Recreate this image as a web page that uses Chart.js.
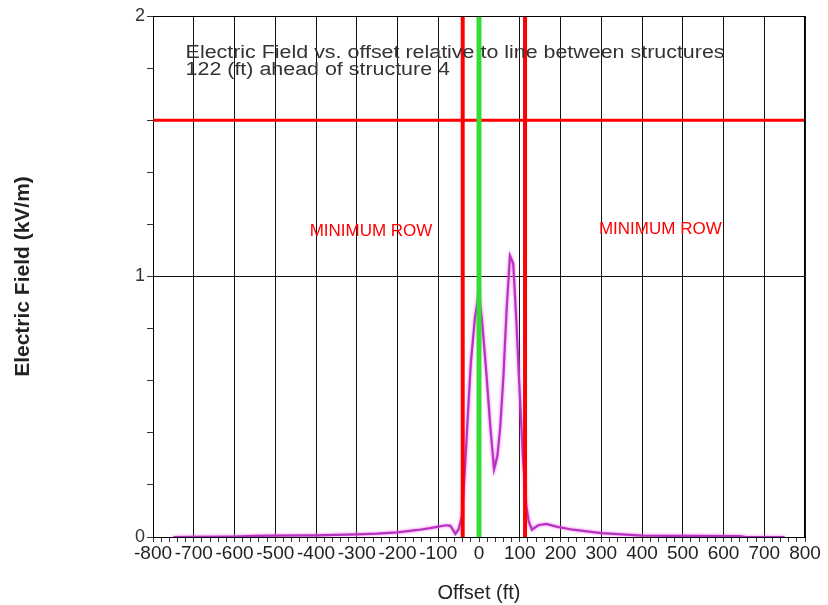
<!DOCTYPE html>
<html>
<head>
<meta charset="utf-8">
<script src="https://cdn.jsdelivr.net/npm/chart.js@4/dist/chart.umd.min.js"></script>
<style>
  html, body { margin: 0; padding: 0; background: #fff; }
  #wrap { width: 828px; height: 605px; }
</style>
</head>
<body>
<div id="wrap"><canvas id="grafico"></canvas></div>
<script>
// offset (ft) and electric field (kV/m)
var offsets = [-750, -700, -600, -550, -500, -400, -300, -250, -200, -150, -120, -100, -80, -70, -58, -50, -42, -35, -28, -20, -10, 0,
	8, 18, 28, 37, 45, 52, 60, 68, 76, 84, 92, 100, 108, 116, 122, 130, 145, 165, 190, 230, 300, 400, 500, 640, 655, 750];
var campo = [0.0, 0.001, 0.002, 0.004, 0.005, 0.006, 0.01, 0.013, 0.018, 0.027, 0.034, 0.04, 0.045, 0.043, 0.012, 0.03, 0.08, 0.25, 0.45, 0.67, 0.84, 0.94,
	0.82, 0.63, 0.42, 0.26, 0.31, 0.42, 0.62, 0.88, 1.08, 1.05, 0.82, 0.55, 0.3, 0.12, 0.06, 0.028, 0.045, 0.05, 0.04, 0.028, 0.015, 0.005, 0.004, 0.003, 0.0, 0.0];

var limiteCampo = 1.6;          // horizontal red limit line
var linhasROW = [-40, 113];      // minimum row edges
var linhaCentro = 0;             // centre line

var tituloTexto = ["Electric Field vs. offset relative to line between structures", "122 (ft) ahead of structure 4"];
var rotulosROW = [
	{ texto: "MINIMUM ROW", x: -265, y: 1.175 },
	{ texto: "MINIMUM ROW", x: 445, y: 1.183 }
];

var fonte = 'Arial, "Liberation Sans", sans-serif';

function linhaVertical(x) {
	return [{ x: x, y: 0 }, { x: x, y: 2 }];
}

var dados = [];
for (var i = 0; i < offsets.length; i++) {
	dados.push({ x: offsets[i], y: campo[i] });
}

var textosPlugin = {
	id: "textos",
	beforeDatasetDraw: function (chart, args) {
		if (args.index === 4) {
			chart.ctx.save();
			chart.ctx.shadowColor = "rgba(235,90,235,0.9)";
			chart.ctx.shadowBlur = 3;
		}
	},
	afterDatasetDraw: function (chart, args) {
		if (args.index === 4) chart.ctx.restore();
	},
	afterDraw: function (chart) {
		var ctx = chart.ctx;
		var sx = chart.scales.x, sy = chart.scales.y;
		var area = chart.chartArea;
		ctx.save();
		// top and right frame
		ctx.strokeStyle = "#000";
		ctx.lineWidth = 1;
		ctx.beginPath();
		ctx.moveTo(area.left, area.top + 0.5);
		ctx.lineTo(area.right - 0.5, area.top + 0.5);
		ctx.lineTo(area.right - 0.5, area.bottom);
		ctx.stroke();

		// title, drawn a little stretched like the original
		ctx.fillStyle = "#333";
		ctx.font = "18px " + fonte;
		ctx.textBaseline = "alphabetic";
		ctx.textAlign = "left";
		var x0 = sx.getPixelForValue(-720);
		ctx.save();
		ctx.translate(x0, 0);
		ctx.scale(1.19, 1);
		ctx.fillText(tituloTexto[0], 0, sy.getPixelForValue(1.84));
		ctx.fillText(tituloTexto[1], 0, sy.getPixelForValue(1.775));
		ctx.restore();

		ctx.fillStyle = "#ff0000";
		ctx.font = "17px " + fonte;
		ctx.textAlign = "center";
		ctx.textBaseline = "middle";
		rotulosROW.forEach(function (r) {
			ctx.fillText(r.texto, sx.getPixelForValue(r.x), sy.getPixelForValue(r.y));
		});
		ctx.restore();
	}
};

new Chart(document.getElementById("grafico"), {
	type: "scatter",
	data: {
		datasets: [
			{
				data: linhaVertical(linhasROW[0]),
				showLine: true, borderColor: "#ff0000", borderWidth: 4, pointRadius: 0, order: 1
			},
			{
				data: linhaVertical(linhasROW[1]),
				showLine: true, borderColor: "#ff0000", borderWidth: 4, pointRadius: 0, order: 1
			},
			{
				data: linhaVertical(linhaCentro),
				showLine: true, borderColor: "#33dd33", borderWidth: 5, pointRadius: 0, order: 1
			},
			{
				data: [{ x: -800, y: limiteCampo }, { x: 800, y: limiteCampo }],
				showLine: true, borderColor: "#ff0000", borderWidth: 3, pointRadius: 0, order: 2
			},
			{
				data: dados,
				showLine: true, borderColor: "#b834c0", borderWidth: 2.2, pointRadius: 0,
				tension: 0, order: 3
			}
		]
	},
	options: {
		responsive: true,
		maintainAspectRatio: false,
		animation: false,
		layout: { padding: { top: 16, right: 23, bottom: 0, left: 0 } },
		plugins: {
			legend: { display: false },
			tooltip: { enabled: false }
		},
		scales: {
			x: {
				type: "linear",
				min: -800,
				max: 800,
				afterFit: function (scale) { scale.height = 68; },
				border: { color: "#000", width: 1 },
				grid: {
					color: function (c) {
						return c.tick && c.tick.value % 100 === 0 ? "#111" : "rgba(0,0,0,0)";
					},
					tickColor: "#333",
					tickLength: 5
				},
				ticks: {
					stepSize: 20,
					autoSkip: false,
					maxRotation: 0,
					minRotation: 0,
					padding: 0,
					color: "#222",
					font: { family: fonte, size: 19 },
					callback: function (v) { return v % 100 === 0 ? String(v) : ""; }
				},
				title: {
					display: true,
					text: "Offset (ft)",
					color: "#222",
					font: { family: fonte, size: 20 },
					padding: { top: 0, bottom: 0 }
				}
			},
			y: {
				min: 0,
				max: 2,
				afterFit: function (scale) { scale.width = 153; },
				border: { color: "#000", width: 1 },
				grid: {
					color: function (c) {
						if (!c.tick) return "rgba(0,0,0,0)";
						var v = c.tick.value;
						return Math.abs(v - Math.round(v)) < 1e-6 ? "#111" : "rgba(0,0,0,0)";
					},
					tickColor: "#333",
					tickLength: 6
				},
				ticks: {
					stepSize: 0.2,
					autoSkip: false,
					padding: 2,
					color: "#333",
					font: { family: fonte, size: 18 },
					callback: function (v) {
						return Math.abs(v - Math.round(v)) < 1e-6 ? String(Math.round(v)) : "";
					}
				},
				title: {
					display: true,
					text: "Electric Field (kV/m)",
					color: "#222",
					font: { family: fonte, size: 21, weight: "bold" },
					padding: { top: 11, bottom: 0 }
				}
			}
		}
	},
	plugins: [textosPlugin]
});
</script>
</body>
</html>
